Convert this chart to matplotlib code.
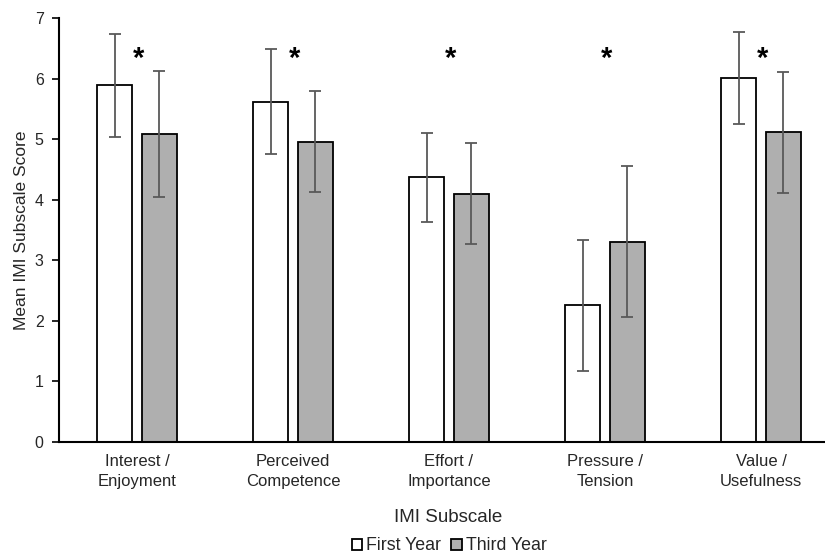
import matplotlib

matplotlib.use("Agg")
import matplotlib.pyplot as plt
import numpy as np
from matplotlib.patches import Patch

plt.rcParams["font.family"] = ["Liberation Sans", "DejaVu Sans"]

categories = ["Interest /\nEnjoyment", "Perceived\nCompetence", "Effort /\nImportance",
              "Pressure /\nTension", "Value /\nUsefulness"]
first_year = [5.89, 5.62, 4.37, 2.26, 6.01]
first_err = [0.85, 0.87, 0.73, 1.08, 0.76]
third_year = [5.08, 4.96, 4.10, 3.31, 5.11]
third_err = [1.04, 0.83, 0.83, 1.25, 1.00]
significant = [True, True, True, True, True]

fig = plt.figure(figsize=(8.25, 5.56), dpi=100)
ax = fig.add_axes([59 / 825, 114 / 556, 766 / 825, 424 / 556])

x = np.arange(len(categories))
w = 0.224
off = 0.144
err_kw = dict(ecolor="#595959", elinewidth=1.3, capsize=4, capthick=1.3)

ax.bar(x - off, first_year, w, yerr=first_err, color="white", edgecolor="black",
       linewidth=1.3, error_kw=err_kw, label="First Year")
ax.bar(x + off, third_year, w, yerr=third_err, color="#afafaf", edgecolor="black",
       linewidth=1.3, error_kw=err_kw, label="Third Year")

# significance markers
for xi, sig in zip(x, significant):
    if sig:
        ax.text(xi + 0.01, 6.32, "*", ha="center", va="center", fontsize=21, fontweight="bold")

ax.set_xlim(-0.5, -0.5 + 766 / 156)
ax.set_ylim(0, 7)
ax.set_yticks(range(8))
ax.set_xticks(x)
ax.set_xticklabels(categories, fontsize=12, color="#262626", linespacing=1.35)
ax.tick_params(axis="x", length=0, pad=9)
ax.tick_params(axis="y", labelsize=11.5, labelcolor="#262626", length=5, width=1.2,
               direction="out", pad=6)

for s in ["top", "right"]:
    ax.spines[s].set_visible(False)
ax.spines["left"].set_linewidth(1.5)
ax.spines["bottom"].set_linewidth(1.5)

ax.set_ylabel("Mean IMI Subscale Score", fontsize=12.5, color="#262626", labelpad=4)
fig.text(448 / 825, 1 - 517 / 556, "IMI Subscale", ha="center", va="center",
         fontsize=13.5, color="#262626")

handles = [Patch(facecolor="white", edgecolor="black", linewidth=1.3, label="First Year"),
           Patch(facecolor="#afafaf", edgecolor="black", linewidth=1.3, label="Third Year")]
fig.legend(handles=handles, loc="center", bbox_to_anchor=(449 / 825, 1 - 546 / 556),
           ncol=2, frameon=False, fontsize=12.8, handlelength=0.6, handleheight=0.6,
           handletextpad=0.2, columnspacing=0.6, labelcolor="#262626")

fig.savefig("out.png", dpi=100)
plt.close(fig)
